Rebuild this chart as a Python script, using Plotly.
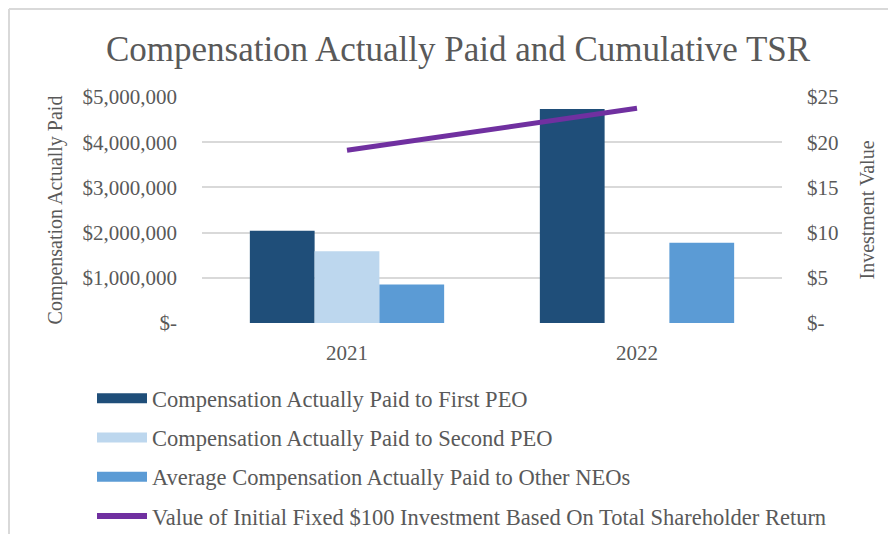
import plotly.graph_objects as go

years = ["2021", "2022"]
first_peo = [2040000, 4735000]
second_peo = [1590000, None]
other_neos = [850000, 1778000]
tsr_value = [19.1, 23.75]

left_tickvals = [0, 1000000, 2000000, 3000000, 4000000, 5000000]
left_ticktext = ["$-", "$1,000,000", "$2,000,000", "$3,000,000", "$4,000,000", "$5,000,000"]
right_tickvals = [0, 5, 10, 15, 20, 25]
right_ticktext = ["$-", "$5", "$10", "$15", "$20", "$25"]

names = [
    "Compensation Actually Paid to First PEO",
    "Compensation Actually Paid to Second PEO",
    "Average Compensation Actually Paid to Other NEOs",
    "Value of Initial Fixed $100 Investment Based On Total Shareholder Return",
]
colors = ["#1F4E79", "#BDD7EE", "#5B9BD5", "#7030A0"]

FONT = "Liberation Serif, Times New Roman, serif"
GRAY = "#595959"

# page body has an 8px margin, so the figure is placed at (8, 8) in the window
OFF = 8
W, H = 880, 526
L, T = 202 - OFF, 97 - OFF
R = W - (782 - OFF)
B = H - (323 - OFF)
PW, PH = W - L - R, H - T - B

def px_x(px):
    return (px - OFF - L) / PW

def px_y(py):
    return (H - B - (py - OFF)) / PH

fig = go.Figure()
for vals, name, col in zip([first_peo, second_peo, other_neos], names[:3], colors[:3]):
    fig.add_trace(go.Bar(x=years, y=vals, name=name, marker=dict(color=col, line=dict(width=0)),
                         showlegend=False))
fig.add_trace(go.Scatter(x=years, y=tsr_value, name=names[3], mode="lines", yaxis="y2",
                         line=dict(color=colors[3], width=5), showlegend=False))

# legend entries (rectangular swatches like the reference)
for i, (name, col) in enumerate(zip(names, colors)):
    fig.add_trace(go.Scatter(x=[None], y=[None], name=name, mode="lines",
                             line=dict(color=col, width=11 if i < 3 else 6),
                             legendgroup=f"g{i}", showlegend=True, hoverinfo="skip"))

fig.update_layout(
    width=W, height=H,
    margin=dict(l=L, r=R, t=T, b=B, autoexpand=False),
    paper_bgcolor="white", plot_bgcolor="white",
    font=dict(family=FONT, color=GRAY, size=20),
    title=dict(text="Compensation Actually Paid and Cumulative TSR", x=(458 - OFF) / W, xanchor="center",
               xref="container", y=1 - (49 - OFF) / H, yanchor="middle", yref="container",
               font=dict(family=FONT, size=35, color=GRAY)),
    barmode="group", bargap=0.33, bargroupgap=0,
    xaxis=dict(type="category", showgrid=False, showline=False, zeroline=False, ticks="",
               tickfont=dict(size=21, color=GRAY, family=FONT), ticklabelstandoff=15),
    yaxis=dict(range=[0, 5000000], tickvals=left_tickvals, ticktext=left_ticktext,
               showgrid=True, gridcolor="#D9D9D9", gridwidth=2, zeroline=False, showline=False,
               ticks="", tickfont=dict(size=21, color=GRAY, family=FONT), ticklabelstandoff=24,
               title=dict(text="Compensation Actually Paid", standoff=14,
                          font=dict(size=20, color=GRAY, family=FONT))),
    yaxis2=dict(range=[0, 25], tickvals=right_tickvals, ticktext=right_ticktext, overlaying="y",
                side="right", showgrid=False, zeroline=False, showline=False, ticks="",
                tickfont=dict(size=21, color=GRAY, family=FONT), ticklabelstandoff=24,
                title=dict(text="Investment Value", standoff=22,
                           font=dict(size=20, color=GRAY, family=FONT))),
    legend=dict(x=px_x(92), y=px_y(377), xanchor="left", yanchor="top", orientation="v",
                traceorder="grouped", tracegroupgap=7, itemwidth=50,
                font=dict(size=22.5, color=GRAY, family=FONT), bgcolor="rgba(0,0,0,0)"),
    showlegend=True,
    shapes=[
        dict(type="line", xref="paper", yref="paper", x0=px_x(9), x1=px_x(W + 40), y0=px_y(9), y1=px_y(9),
             line=dict(color="#D9D9D9", width=2)),
        dict(type="line", xref="paper", yref="paper", x0=px_x(9), x1=px_x(9), y0=px_y(9), y1=px_y(H + 40),
             line=dict(color="#D9D9D9", width=2)),
    ],
)

fig.write_html("out.html")
